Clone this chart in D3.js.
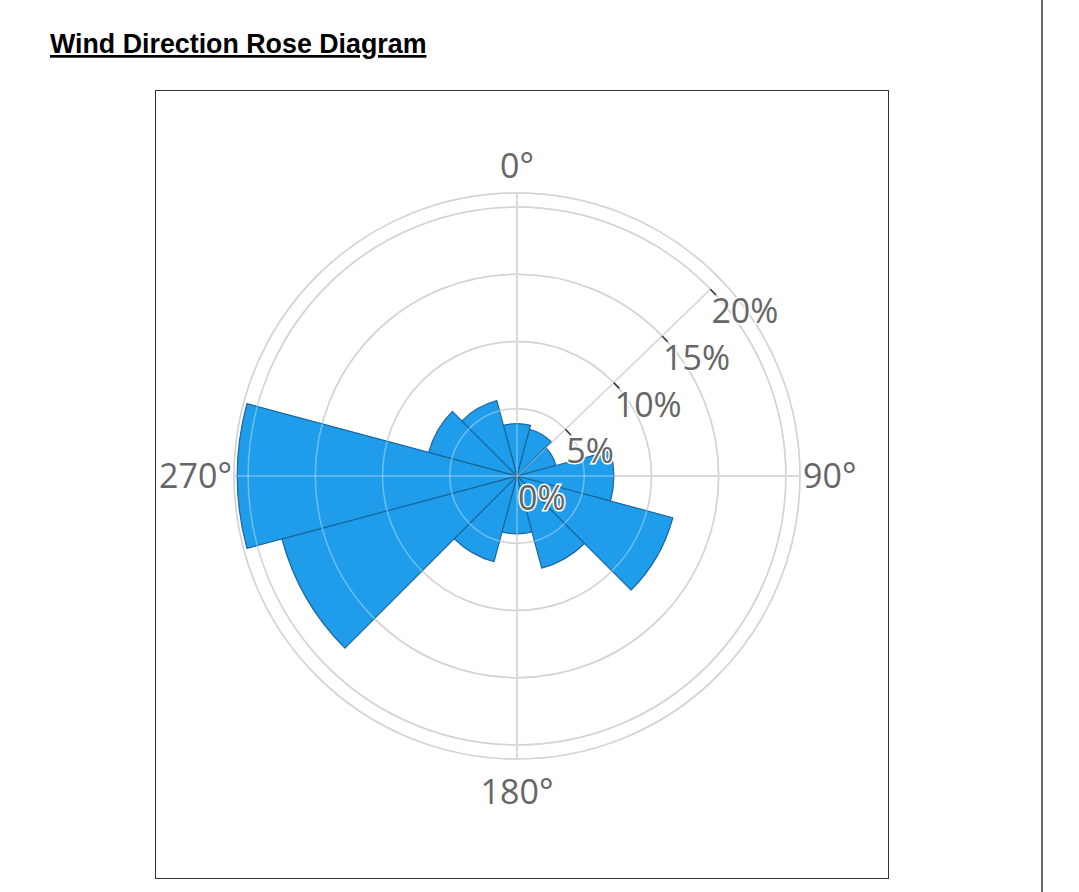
<!DOCTYPE html>
<html>
<head>
<meta charset="utf-8">
<script src="https://cdn.jsdelivr.net/npm/d3@7"></script>
<style>
  body { margin: 0; background: #fff; }
  svg text { font-family: "Open Sans", "DejaVu Sans", sans-serif; }
</style>
</head>
<body>
<div id="chart"></div>
<script>
/********* data *********/
// wind direction bins (degrees, sector centre) and share of observations (%)
const directions = [0, 30, 60, 90, 120, 150, 180, 210, 240, 270, 300, 330];
const frequency  = [3.9, 3.6, 3.0, 7.2, 12.0, 7.1, 4.3, 6.6, 18.1, 20.8, 6.8, 5.8];
const radialTicks = [0, 5, 10, 15, 20];
const angleTicks = [0, 90, 180, 270];
const sectorWidth = 30;
const radialMax = 21.05;

/********* layout *********/
const W = 1079, H = 892;
const cx = 517, cy = 476, R = 283;
const axisAngle = 46; // compass angle of the radial axis

const svg = d3.select("#chart").append("svg")
    .attr("width", W)
    .attr("height", H);

// page title
svg.append("text")
    .attr("x", 50)
    .attr("y", 53)
    .style("font-family", "'Liberation Sans', Arial, sans-serif")
    .style("font-weight", "bold")
    .style("font-size", "26.8px")
    .style("text-decoration", "underline")
    .attr("fill", "#000")
    .text("Wind Direction Rose Diagram");

// right rule
svg.append("line")
    .attr("x1", 1042).attr("x2", 1042)
    .attr("y1", 0).attr("y2", H)
    .attr("stroke", "#666")
    .attr("stroke-width", 2);

// chart frame
svg.append("rect")
    .attr("x", 155.5).attr("y", 90.5)
    .attr("width", 733).attr("height", 788)
    .attr("fill", "none")
    .attr("stroke", "#333")
    .attr("stroke-width", 1);

let r = d3.scaleLinear().domain([0, radialMax]).range([0, R]);

let g = svg.append("g")
    .attr("transform", "translate(" + cx + "," + cy + ")");

function pt(deg, rad) {
  let a = deg * Math.PI / 180;
  return [rad * Math.sin(a), -rad * Math.cos(a)];
}

// polar grid (drawn twice: gray under the bars, pale on top of them)
function drawGrid(layer, color, width) {
  layer.selectAll(".ring")
    .data(radialTicks.filter(function(d) { return d > 0; }))
    .enter().append("circle")
      .attr("r", function(d) { return r(d); })
      .attr("fill", "none")
      .attr("stroke", color)
      .attr("stroke-width", width);

  layer.append("circle")
      .attr("r", R)
      .attr("fill", "none")
      .attr("stroke", color)
      .attr("stroke-width", width);

  layer.selectAll(".spoke")
    .data(angleTicks)
    .enter().append("line")
      .attr("x1", 0).attr("y1", 0)
      .attr("x2", function(d) { return pt(d, R)[0]; })
      .attr("y2", function(d) { return pt(d, R)[1]; })
      .attr("stroke", color)
      .attr("stroke-width", width);

  layer.append("line")
      .attr("x1", 0).attr("y1", 0)
      .attr("x2", pt(axisAngle, r(20))[0])
      .attr("y2", pt(axisAngle, r(20))[1])
      .attr("stroke", color)
      .attr("stroke-width", 1.2);
}

drawGrid(g.append("g"), "#bcbcbc", 1.5);

// bars
let arc = d3.arc()
    .innerRadius(0)
    .outerRadius(function(d) { return r(d.value); })
    .startAngle(function(d) { return (d.dir - sectorWidth / 2) * Math.PI / 180; })
    .endAngle(function(d) { return (d.dir + sectorWidth / 2) * Math.PI / 180; });

let bins = directions.map(function(d, i) { return {dir: d, value: frequency[i]}; });

g.selectAll(".bar")
  .data(bins)
  .enter().append("path")
    .attr("class", "bar")
    .attr("d", arc)
    .attr("fill", "#1f9cea")
    .attr("stroke", "#19679f")
    .attr("stroke-width", 1.2)
    .attr("stroke-linejoin", "round");

drawGrid(g.append("g"), "rgba(255,255,255,0.35)", 1.5);

// radial axis ticks + labels
let ux = Math.sin(axisAngle * Math.PI / 180), uy = -Math.cos(axisAngle * Math.PI / 180);
let tx = -uy, ty = ux; // perpendicular, pointing down-right

g.selectAll(".rtick")
  .data(radialTicks.filter(function(d) { return d > 0; }))
  .enter().append("line")
    .attr("x1", function(d) { return ux * r(d); })
    .attr("y1", function(d) { return uy * r(d); })
    .attr("x2", function(d) { return ux * r(d) + tx * 8; })
    .attr("y2", function(d) { return uy * r(d) + ty * 8; })
    .attr("stroke", "#333")
    .attr("stroke-width", 1.5);

g.selectAll(".rlabel")
  .data(radialTicks)
  .enter().append("text")
    .attr("x", function(d) { return ux * r(d) + 1; })
    .attr("y", function(d) { return uy * r(d) + 34; })
    .attr("font-size", 34)
    .attr("fill", "#666")
    .attr("stroke", "#fff")
    .attr("stroke-width", 3)
    .attr("paint-order", "stroke")
    .text(function(d) { return d + "%"; });

// angular labels
let labelPos = {
  0:   {x: 0, y: -R - 15, anchor: "middle"},
  90:  {x: R + 3, y: 12, anchor: "start"},
  180: {x: 0, y: R + 45, anchor: "middle"},
  270: {x: -R - 2, y: 12, anchor: "end"}
};

g.selectAll(".alabel")
  .data(angleTicks)
  .enter().append("text")
    .attr("x", function(d) { return labelPos[d].x; })
    .attr("y", function(d) { return labelPos[d].y; })
    .attr("text-anchor", function(d) { return labelPos[d].anchor; })
    .attr("font-size", 34)
    .attr("fill", "#666")
    .text(function(d) { return d + "°"; });
</script>
</body>
</html>
